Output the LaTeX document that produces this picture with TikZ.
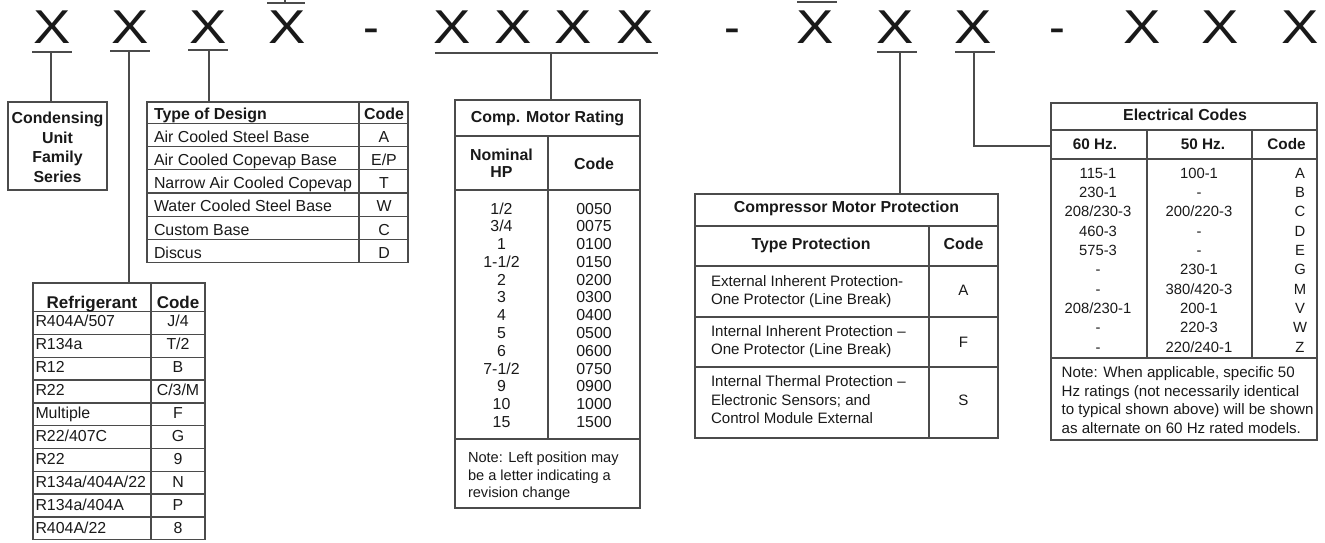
\documentclass[tikz,border=0pt]{standalone}
\usepackage{fontspec}
\setmainfont{Liberation Sans}
\usepackage{graphicx}
\definecolor{ln}{RGB}{75,75,75}
\definecolor{tx}{RGB}{25,25,25}
\begin{document}
\begin{tikzpicture}[x=1pt,y=-1pt,
  every node/.style={inner sep=0pt, outer sep=0pt, text=tx},
  tb/.style={font=\fontsize{15.9}{17.8}\selectfont, anchor=base},
  tbl/.style={tb, anchor=base west},
  tbs/.style={font=\fontsize{15.1}{17}\selectfont, anchor=base west},
  tbn/.style={font=\fontsize{14.6}{17}\selectfont, anchor=base west},
  tbe/.style={font=\fontsize{14.8}{17}\selectfont, anchor=base},
  bd/.style={tb, font=\fontsize{15.9}{17.8}\selectfont\bfseries},
  big/.style={font=\fontsize{47.5}{50}\selectfont, anchor=base},
  frame/.style={draw=ln, line width=1.3pt},
  conn/.style={draw=ln, line width=1.2pt},
  box/.style={frame, anchor=north west},
]
\useasboundingbox (0,0) rectangle (1325,542);

% ---- big code letters ----
\foreach \n/\x in {x1/52,x2/130,x3/208,x4/287,x5/452,x6/513,x7/573,x8/635,x9/815,x10/895,x11/973,x12/1142,x13/1220,x14/1300}
  \node[big] (\n) at (\x,43) {\scalebox{1.18}[1]{X}};
\foreach \n/\x in {d1/371,d2/732,d3/1057}
  \node[big] (\n) at (\x,43) {-};

% underlines
\draw[conn] (32,52) -- (72,52);
\draw[conn] (110,51) -- (150,51);
\draw[conn] (188,50) -- (228,50);
\draw[conn] (435,53) -- (658,53);
\draw[conn] (877,52) -- (917,52);
\draw[conn] (955,52) -- (995,52);
% bars above (cut off)
\draw[conn] (267,3) -- (305,3);
\draw[conn] (285,3) -- (285,0);
\draw[conn] (797,2) -- (837,2);

\coordinate (u1) at (51,52);
\coordinate (u2) at (129,51);
\coordinate (u3) at (209,50);
\coordinate (u4) at (551,53);
\coordinate (u6) at (900,52);
\coordinate (u7) at (974,52);

% ---- boxes ----
\node[box, minimum width=99pt, minimum height=88pt] (cond) at (8,102) {};
\node[box, minimum width=261pt, minimum height=160.7pt] (design) at (147,102) {};
\node[box, minimum width=172pt, minimum height=256.7pt] (refr) at (33,283) {};
\node[box, minimum width=185pt, minimum height=408pt] (cmr) at (455,100) {};
\node[box, minimum width=303pt, minimum height=244pt] (prot) at (695,194) {};
\node[box, minimum width=266pt, minimum height=337pt] (elec) at (1051,103) {};

% ---- connectors ----
\draw[conn] (u1) -- (u1 |- cond.north);
\draw[conn] (u2) -- (u2 |- refr.north);
\draw[conn] (u3) -- (u3 |- design.north);
\draw[conn] (u4) -- (u4 |- cmr.north);
\draw[conn] (u6) -- (u6 |- prot.north);
\draw[conn] (u7) |- (elec.west |- 0,146);

% ---- condensing unit ----
\node[bd] (c1) at (57.5,123.4) {Condensing};
\node[bd] (c2) at (57.5,143.1) {Unit};
\node[bd] (c3) at (57.5,162.8) {Family};
\node[bd] (c4) at (57.5,182.5) {Series};

% ---- type of design ----
\foreach \k in {0,...,5} \draw[frame] (147,123.3+23.23*\k) -- (408,123.3+23.23*\k);
\draw[frame] (359,102) -- (359,262.7);
\node[bd, anchor=base west] (dh1) at (154,119) {Type of Design};
\node[bd] (dh2) at (384,119) {Code};
\foreach \t/\c [count=\i from 0] in {Air Cooled Steel Base/A, Air Cooled Copevap Base/{E/P}, Narrow Air Cooled Copevap/T, Water Cooled Steel Base/W, Custom Base/C, Discus/D} {
  \node[tbl] (dt\i) at (154,142.3+23.23*\i) {\t};
  \node[tb] (dc\i) at (384,142.3+23.23*\i) {\c};
}

% ---- refrigerant ----
\foreach \k in {0,...,9} \draw[frame] (33,311.7+22.8*\k) -- (205,311.7+22.8*\k);
\draw[frame] (151,283) -- (151,539.7);
\node[bd, font=\fontsize{17}{19}\selectfont\bfseries] (rh1) at (92,308.5) {Refrigerant};
\node[bd, font=\fontsize{17}{19}\selectfont\bfseries] (rh2) at (178,308.5) {Code};
\foreach \t/\c [count=\i from 0] in {{R404A/507}/{J/4}, R134a/{T/2}, R12/B, R22/{C/3/M}, Multiple/F, {R22/407C}/G, R22/9, {R134a/404A/22}/N, {R134a/404A}/P, {R404A/22}/8} {
  \node[tbl] (rt\i) at (35.5,326.7+22.96*\i) {\t};
  \node[tb] (rc\i) at (178,326.7+22.96*\i) {\c};
}

% ---- comp motor rating ----
\draw[frame] (455,136) -- (640,136);
\draw[frame] (455,190) -- (640,190);
\draw[frame] (455,439) -- (640,439);
\draw[frame] (548,136) -- (548,439);
\node[bd] (mt) at (547.5,122.7) {Comp. Motor Rating};
\node[bd] (mh1) at (501.5,160) {Nominal};
\node[bd] (mh2) at (501.5,177.3) {HP};
\node[bd] (mh3) at (594,169) {Code};
\foreach \a/\b [count=\i from 0] in {{1/2}/0050, {3/4}/0075, 1/0100, {1-1/2}/0150, 2/0200, 3/0300, 4/0400, 5/0500, 6/0600, {7-1/2}/0750, 9/0900, 10/1000, 15/1500} {
  \node[tb] (ma\i) at (501.5,214+17.78*\i) {\a};
  \node[tb] (mb\i) at (594,214+17.78*\i) {\b};
}
\node[tbn] (mn1) at (468,462.5) {Note: Left position may};
\node[tbn] (mn2) at (468,480) {be a letter indicating a};
\node[tbn] (mn3) at (468,497.5) {revision change};

% ---- compressor motor protection ----
\foreach \yy in {226,266,317,367} \draw[frame] (695,\yy) -- (998,\yy);
\draw[frame] (929,226) -- (929,438);
\node[bd] (pt) at (846.5,212) {Compressor Motor Protection};
\node[bd] (ph1) at (811,249) {Type Protection};
\node[bd] (ph2) at (963.5,249) {Code};
\node[tbs] (p1a) at (711,286) {External Inherent Protection-};
\node[tbs] (p1b) at (711,304.5) {One Protector (Line Break)};
\node[tbs] (p2a) at (711,336) {Internal Inherent Protection –};
\node[tbs] (p2b) at (711,354.5) {One Protector (Line Break)};
\node[tbs] (p3a) at (711,386.7) {Internal Thermal Protection –};
\node[tbs] (p3b) at (711,405) {Electronic Sensors; and};
\node[tbs] (p3c) at (711,423.3) {Control Module External};
\node[tbs, anchor=base] (pc1) at (963.5,295.7) {A};
\node[tbs, anchor=base] (pc2) at (963.5,347.4) {F};
\node[tbs, anchor=base] (pc3) at (963.5,405.7) {S};

% ---- electrical codes ----
\foreach \yy in {130,159,358} \draw[frame] (1051,\yy) -- (1317,\yy);
\draw[frame] (1147,130) -- (1147,358);
\draw[frame] (1252,130) -- (1252,358);
\node[bd] (et) at (1185,120.5) {Electrical Codes};
\node[bd, font=\fontsize{15.3}{17}\selectfont\bfseries] (eh1) at (1095,149.5) {60 Hz.};
\node[bd, font=\fontsize{15.3}{17}\selectfont\bfseries] (eh2) at (1203,149.5) {50 Hz.};
\node[bd, font=\fontsize{15.3}{17}\selectfont\bfseries] (eh3) at (1286.5,149.5) {Code};
\foreach \a/\b/\c [count=\i from 0] in {{115-1}/{100-1}/A, {230-1}/-/B, {208/230-3}/{200/220-3}/C, {460-3}/-/D, {575-3}/-/E, -/{230-1}/G, -/{380/420-3}/M, {208/230-1}/{200-1}/V, -/{220-3}/W, -/{220/240-1}/Z} {
  \node[tbe] (ea\i) at (1098,178.3+19.33*\i) {\a};
  \node[tbe] (eb\i) at (1199,178.3+19.33*\i) {\b};
  \node[tbe] (ec\i) at (1300,178.3+19.33*\i) {\c};
}
\node[tbs] (en1) at (1061.7,377.7) {Note: When applicable, specific 50};
\node[tbs] (en2) at (1061.7,396.2) {Hz ratings (not necessarily identical};
\node[tbs] (en3) at (1061.7,414.7) {to typical shown above) will be shown};
\node[tbs] (en4) at (1061.7,433.2) {as alternate on 60 Hz rated models.};
\end{tikzpicture}
\end{document}
